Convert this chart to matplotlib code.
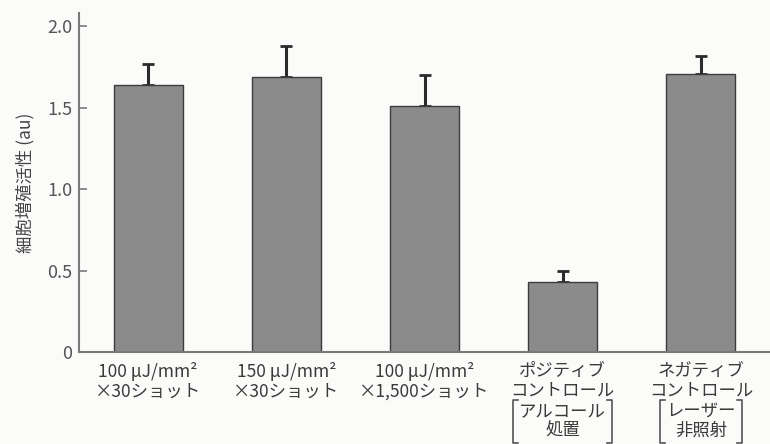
import matplotlib
matplotlib.use("Agg")
import matplotlib.pyplot as plt
from matplotlib.lines import Line2D

plt.rcParams['font.family'] = ['Noto Sans CJK JP', 'DejaVu Sans']

# cell proliferation activity per condition
conditions = ["100 μJ/mm²\n×30ショット",
              "150 μJ/mm²\n×30ショット",
              "100 μJ/mm²\n×1,500ショット",
              "ポジティブ\nコントロール",
              "ネガティブ\nコントロール"]
notes = ["", "", "", "アルコール\n処置", "レーザー\n非照射"]
activity = [1.64, 1.69, 1.51, 0.43, 1.71]
sd = [0.13, 0.19, 0.19, 0.07, 0.11]
yticks = [0, 0.5, 1.0, 1.5, 2.0]
ytick_labels = ["0", "0.5", "1.0", "1.5", "2.0"]

txt = '#3a3a3a'
axis_col = '#7a7a7a'

fig = plt.figure(figsize=(7.7, 4.44), dpi=100)
fig.patch.set_facecolor('#fbfbfa')
ax = fig.add_axes([0.1026, 0.207, 0.8974, 0.763])
ax.set_facecolor('#fbfbfa')

x = list(range(len(activity)))
ax.bar(x, activity, width=0.5, color='#8b8b8b', edgecolor='#3c3c3c', linewidth=1.0, zorder=2)
ax.errorbar(x, activity, yerr=[[0] * len(sd), sd], fmt='none', ecolor='#2b2b2b',
            elinewidth=2.2, capsize=4.5, capthick=2.0, zorder=1)

ax.set_xlim(-0.5, 4.5)
ax.set_ylim(0, 2.08)
ax.set_yticks(yticks)
ax.set_yticklabels(ytick_labels, fontsize=13, color='#555555')
ax.tick_params(axis='y', direction='in', length=6, width=1.2, color=axis_col, pad=5)
ax.set_xticks(x)
ax.set_xticklabels(conditions, fontsize=12.5, color=txt, linespacing=1.15)
ax.tick_params(axis='x', length=0, pad=7)

for side in ['top', 'right']:
    ax.spines[side].set_visible(False)
for side in ['left', 'bottom']:
    ax.spines[side].set_color(axis_col)
    ax.spines[side].set_linewidth(1.5)

ax.set_ylabel("細胞増殖活性 (au)", fontsize=12.5, color='#444444', labelpad=9)

# bracketed notes under the control labels
note_texts = []
for xi, note in zip(x, notes):
    if note:
        t = ax.annotate(note, xy=(xi, 0), xycoords=('data', 'axes fraction'),
                        xytext=(0, -36), textcoords='offset points',
                        ha='center', va='top', fontsize=12.5, color=txt,
                        linespacing=1.12, annotation_clip=False)
        note_texts.append(t)

fig.canvas.draw()
renderer = fig.canvas.get_renderer()
for t in note_texts:
    bb = t.get_window_extent(renderer)
    x0, x1 = bb.x0 - 6, bb.x1 + 6
    y0, y1 = bb.y0 - 3, bb.y1 + 2
    for xe, d in [(x0, 5), (x1, -5)]:
        fig.add_artist(Line2D([xe + d, xe, xe, xe + d], [y1, y1, y0, y0],
                              transform=None, color='#555555', lw=1.2))

fig.savefig("out.png", dpi=100, facecolor=fig.get_facecolor())
